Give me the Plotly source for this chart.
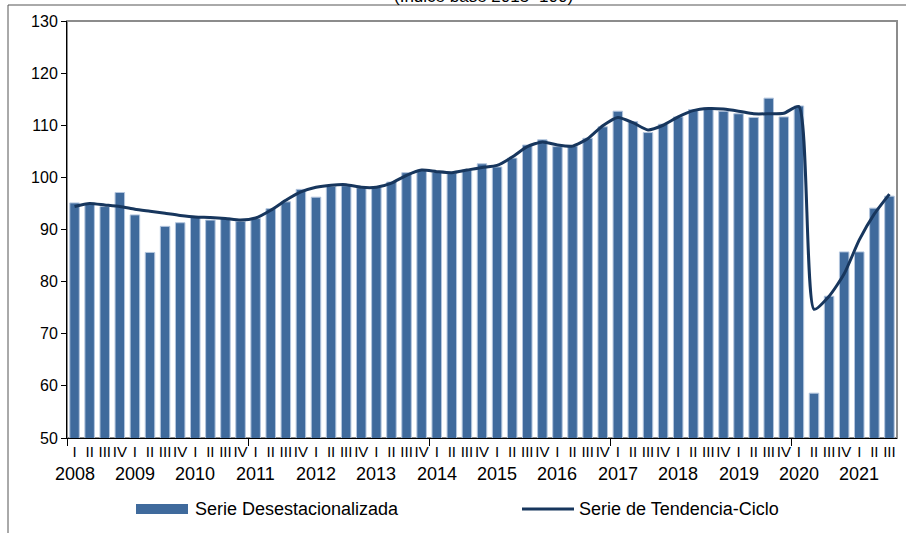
import plotly.graph_objects as go

years = [str(y) for y in range(2008, 2022)]
quarters = ["I", "II", "III", "IV"]

desest = [95.1, 95.0, 94.4, 97.1, 92.8, 85.6, 90.6, 91.3, 92.3, 91.8, 92.2, 91.6,
          92.1, 94.0, 95.3, 97.7, 96.2, 98.3, 98.4, 98.0, 98.1, 99.1, 100.9, 101.4,
          101.0, 100.8, 101.4, 102.6, 102.0, 103.7, 106.2, 107.2, 105.9, 106.0, 107.5, 109.7,
          112.7, 110.7, 108.6, 110.2, 111.6, 113.0, 113.3, 112.7, 112.2, 111.5, 115.2, 111.6,
          113.7, 58.6, 77.2, 85.7, 85.7, 94.1, 96.4]
tendencia = [94.4, 95.0, 94.7, 94.4, 93.9, 93.5, 93.1, 92.7, 92.4, 92.3, 92.1, 91.8,
             92.2, 93.7, 95.6, 97.2, 98.1, 98.5, 98.6, 98.1, 98.1, 98.9, 100.4, 101.4,
             101.1, 100.9, 101.4, 101.9, 102.3, 103.9, 105.9, 106.8, 106.2, 106.0, 107.4, 109.9,
             111.5, 110.5, 109.1, 110.0, 111.6, 112.8, 113.2, 113.1, 112.7, 112.2, 112.2, 112.3,
             113.6, 74.7, 77.2, 81.5, 88.0, 93.0, 96.8]
series_names = ["Serie Desestacionalizada", "Serie de Tendencia-Ciclo"]

n = len(desest)
xs = list(range(n))
qlabels = [quarters[i % 4] for i in xs]

FONT = "Liberation Sans, Arial, sans-serif"
BAR_COLOR = "#3F6A9C"
LINE_COLOR = "#17365D"

# pixel helpers for decoration placement (plot area: x 67..897, y 21..438)
def px(x):
    return (x - 67) / 830.0

def py(y):
    return (438 - y) / 417.0

fig = go.Figure()
fig.add_trace(go.Bar(
    x=xs, y=desest, name=series_names[0], width=0.63, showlegend=False,
    marker=dict(color=BAR_COLOR, line=dict(color="#B4C6DE", width=1)),
))
fig.add_trace(go.Scatter(
    x=xs, y=tendencia, name=series_names[1], mode="lines", showlegend=False,
    line=dict(color=LINE_COLOR, width=3, shape="spline", smoothing=0.6),
))
# invisible trace for the major-tick axis
fig.add_trace(go.Scatter(x=[xs[0]], y=[50], xaxis="x2", mode="markers",
                         marker=dict(opacity=0), showlegend=False, hoverinfo="skip"))

annotations = []
for k, yr in enumerate(years):
    annotations.append(dict(x=4 * k, y=py(462), xref="x", yref="paper", text=yr,
                            showarrow=False, yanchor="top", xanchor="center",
                            font=dict(family=FONT, size=18, color="black")))
annotations.append(dict(x=px(483), y=py(-3), xref="paper", yref="paper",
                        text="(Índice base 2015=100)", showarrow=False,
                        xanchor="center", yanchor="middle",
                        font=dict(family=FONT, size=17, color="black")))
# legend texts
annotations.append(dict(x=px(193), y=py(509), xref="paper", yref="paper",
                        text=series_names[0], showarrow=False, xanchor="left",
                        yanchor="middle", font=dict(family=FONT, size=18, color="black")))
annotations.append(dict(x=px(577), y=py(509), xref="paper", yref="paper",
                        text=series_names[1], showarrow=False, xanchor="left",
                        yanchor="middle", font=dict(family=FONT, size=18, color="black")))

shapes = [
    dict(type="rect", xref="paper", yref="paper", x0=0, y0=0, x1=1, y1=1,
         line=dict(color="#8C8C8C", width=2), layer="below"),
    dict(type="line", xref="paper", yref="paper", x0=px(8), x1=px(920),
         y0=py(5), y1=py(5), line=dict(color="#555555", width=1)),
    dict(type="line", xref="paper", yref="paper", x0=px(8), x1=px(8),
         y0=py(5), y1=py(540), line=dict(color="#555555", width=1)),
    # legend swatches
    dict(type="rect", xref="paper", yref="paper", x0=px(136), x1=px(188),
         y0=py(514), y1=py(504), fillcolor=BAR_COLOR, line=dict(width=0)),
    dict(type="line", xref="paper", yref="paper", x0=px(522), x1=px(574),
         y0=py(509), y1=py(509), line=dict(color=LINE_COLOR, width=3)),
]

major = [-0.5 + 12 * i for i in range(5)]

fig.update_layout(
    width=906, height=533,
    margin=dict(l=67, r=9, t=21, b=95),
    paper_bgcolor="white", plot_bgcolor="white",
    font=dict(family=FONT, size=16, color="black"),
    showlegend=False,
    xaxis=dict(range=[-0.5, n - 0.5], tickmode="array", tickvals=xs, ticktext=qlabels,
               ticks="", tickangle=0, showline=True, linecolor="black", linewidth=1,
               showgrid=False, zeroline=False, tickfont=dict(size=15),
               automargin=False),
    xaxis2=dict(range=[-0.5, n - 0.5], overlaying="x", anchor="y", side="bottom",
                tickmode="array", tickvals=major, ticks="outside", ticklen=7,
                tickcolor="black", showticklabels=False, showgrid=False,
                zeroline=False, automargin=False),
    yaxis=dict(range=[50, 130], tickmode="array", tickvals=list(range(50, 131, 10)),
               ticks="outside", ticklen=5, tickcolor="black", showline=True,
               linecolor="black", linewidth=1, showgrid=False, zeroline=False,
               tickfont=dict(size=16), automargin=False),
    annotations=annotations,
    shapes=shapes,
)

fig.write_html("out.html", config={"displayModeBar": False},
               post_script="document.body.style.margin='0';")
